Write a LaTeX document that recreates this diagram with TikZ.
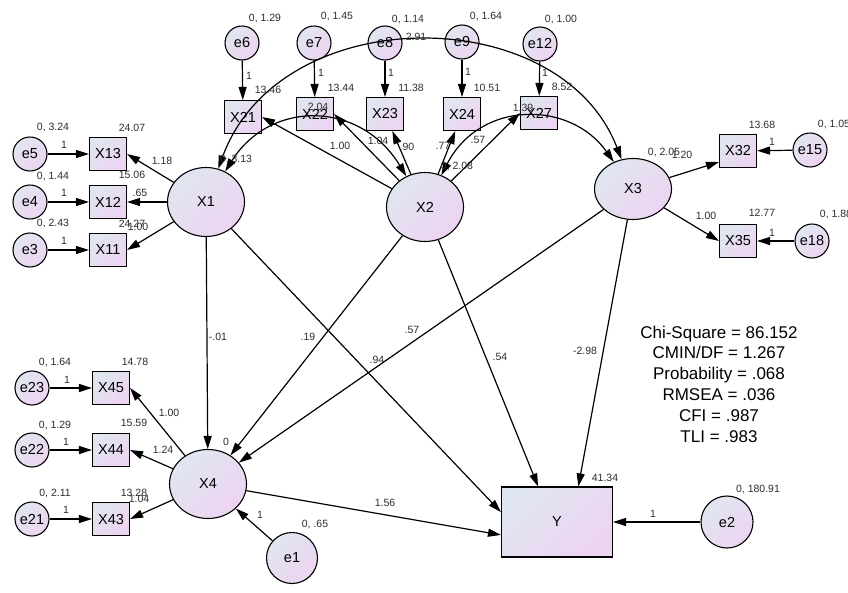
\documentclass[tikz,border=0pt]{standalone}
\usepackage{fontspec}
\setmainfont{Liberation Sans}
\usetikzlibrary{arrows.meta, shapes.geometric}
\definecolor{amosblue}{RGB}{224,230,240}
\definecolor{amospink}{RGB}{237,212,241}
\definecolor{labgray}{RGB}{45,45,45}
\tikzset{>={Triangle[length=13pt,width=8pt]}}
\tikzset{
  grad/.style={left color=amosblue, right color=amospink, shading angle=45},
  lat/.style={ellipse, draw, line width=1.1pt, grad, minimum width=77pt, minimum height=69pt, inner sep=0pt, font=\fontsize{14.5}{16}\selectfont},
  obs/.style={rectangle, draw, line width=1.1pt, grad, minimum width=37pt, minimum height=33pt, inner sep=0pt, font=\fontsize{14.5}{16}\selectfont},
  err/.style={circle, draw, line width=1.1pt, grad, minimum size=34pt, inner sep=0pt, font=\fontsize{14.5}{16}\selectfont},
  lab/.style={inner sep=0pt, text=labgray, font=\fontsize{10.5}{12}\selectfont},
  arr/.style={->, line width=1.2pt},
  cov/.style={<->, line width=1.2pt}
}

\begin{document}
\begin{tikzpicture}[x=1pt,y=-1pt]
\path[fill=white] (0,0) rectangle (848,592);
\useasboundingbox (0,0) rectangle (848,592);
\node[lat] (X1) at (206,202) {X1};
\node[lat] (X2) at (425,207) {X2};
\node[lat, minimum height=61pt] (X3) at (633,189) {X3};
\node[lat] (X4) at (208,484) {X4};
\node[obs] (X21) at (243,117) {X21};
\node[obs] (X22) at (315,114) {X22};
\node[obs] (X23) at (385,114) {X23};
\node[obs] (X24) at (462,114) {X24};
\node[obs] (X27) at (539,113) {X27};
\node[obs] (X13) at (108,154) {X13};
\node[obs] (X12) at (108,202) {X12};
\node[obs] (X11) at (108,250) {X11};
\node[obs] (X32) at (738,151) {X32};
\node[obs] (X35) at (738,241) {X35};
\node[obs] (X45) at (111,388) {X45};
\node[obs] (X44) at (111,450) {X44};
\node[obs] (X43) at (111,519) {X43};
\node[obs, minimum width=111pt, minimum height=70pt] (Y) at (557,522) {Y};
\node[err] (e6) at (242,43) {e6};
\node[err] (e7) at (314,43) {e7};
\node[err] (e8) at (385,43) {e8};
\node[err] (e9) at (462,42) {e9};
\node[err] (e12) at (540,44) {e12};
\node[err] (e5) at (30,154) {e5};
\node[err] (e4) at (30,202) {e4};
\node[err] (e3) at (30,250) {e3};
\node[err] (e15) at (810,150) {e15};
\node[err] (e18) at (812,241) {e18};
\node[err] (e23) at (32,388) {e23};
\node[err] (e22) at (32,450) {e22};
\node[err] (e21) at (32,519) {e21};
\node[err, minimum size=51pt] (e1) at (292,558) {e1};
\node[err, minimum size=52pt] (e2) at (727,522) {e2};

\draw[arr] (e6) -- (X21);
\draw[arr] (e7) -- (X22);
\draw[arr] (e8) -- (X23);
\draw[arr] (e9) -- (X24);
\draw[arr] (e12) -- (X27);
\draw[arr] (e5) -- (X13);
\draw[arr] (e4) -- (X12);
\draw[arr] (e3) -- (X11);
\draw[arr] (e15) -- (X32);
\draw[arr] (e18) -- (X35);
\draw[arr] (e23) -- (X45);
\draw[arr] (e22) -- (X44);
\draw[arr] (e21) -- (X43);
\draw[arr] (e1) -- (X4);
\draw[arr] (e2) -- (Y);

\draw[arr] (X1) -- (X13.east);
\draw[arr] (X1) -- (X12.east);
\draw[arr] (X1) -- (X11.east);
\draw[arr] (X2) -- (X21.east);
\draw[arr] (X2) -- (X22.east);
\draw[arr] (X2) -- (X23);
\draw[arr] (X2) -- (X24);
\draw[arr] (X2) -- (X27.west);
\draw[arr] (X3) -- (X32.210);
\draw[arr] (X3) -- (X35.west);
\draw[arr] (X4) -- (X45.east);
\draw[arr] (X4) -- (X44.east);
\draw[arr] (X4) -- (X43.east);

\draw[arr] (X1) -- (X4);
\draw[arr] (X2) -- (X4);
\draw[arr] (X3) -- (X4);
\draw[arr] (X1) -- (Y.170);
\draw[arr] (X2) -- (Y.118);
\draw[arr] (X3) -- (Y.59);
\draw[arr] (X4) -- (Y.193);

\draw[cov] (X1) .. controls (280,0) and (560,0) .. (X3);
\draw[cov] (X1) .. controls (270,100) and (360,100) .. (X2);
\draw[cov] (X2) .. controls (480,100) and (570,100) .. (X3);

\node[lab] (v6) at (265,19) {0, 1.29};
\node[lab] (v7) at (337,17) {0, 1.45};
\node[lab] (v8) at (408,20) {0, 1.14};
\node[lab] (v9) at (486,17) {0, 1.64};
\node[lab] (v12) at (561,20) {0, 1.00};
\node[lab] (w6) at (249,76) {1};
\node[lab] (w7) at (321,73) {1};
\node[lab] (w8) at (391,73) {1};
\node[lab] (w9) at (468,72) {1};
\node[lab] (w12) at (545,73) {1};
\node[lab] (i21) at (268,90) {13.46};
\node[lab] (i22) at (341,88) {13.44};
\node[lab] (i23) at (411,88) {11.38};
\node[lab] (i24) at (487,88) {10.51};
\node[lab] (i27) at (562,87) {8.52};
\node[lab] (c13) at (416,37) {2.91};
\node[lab] (c12) at (318,107) {2.04};
\node[lab] (c23) at (523,108) {1.39};
\node[lab] (l21) at (340,146) {1.00};
\node[lab] (l22) at (378,141) {1.04};
\node[lab] (l23) at (407,147) {.90};
\node[lab] (l24) at (443,146) {.77};
\node[lab] (l27) at (478,140) {.57};
\node[lab] (vX1) at (236,160) {0, 3.13};
\node[lab] (vX2) at (457,167) {0, 2.08};
\node[lab] (vX3) at (664,153) {0, 2.05};
\node[lab] (vX4) at (226,442) {0};

\node[lab] (v5) at (53,128) {0, 3.24};
\node[lab] (i13) at (132,128) {24.07};
\node[lab] (w5) at (64,145) {1};
\node[lab] (v4) at (53,177) {0, 1.44};
\node[lab] (i12) at (132,175) {15.06};
\node[lab] (w4) at (64,193) {1};
\node[lab] (v3) at (53,224) {0, 2.43};
\node[lab] (i11) at (132,224) {24.27};
\node[lab] (w3) at (64,241) {1};
\node[lab] (l13) at (162,161) {1.18};
\node[lab] (l12) at (140,193) {.65};
\node[lab] (l11) at (138,227) {1.00};

\node[lab] (l32) at (682,155) {1.20};
\node[lab] (i32) at (762,125) {13.68};
\node[lab] (v15) at (834,125) {0, 1.05};
\node[lab] (w15) at (772,142) {1};
\node[lab] (l35) at (706,216) {1.00};
\node[lab] (i35) at (762,213) {12.77};
\node[lab] (v18) at (836,215) {0, 1.88};
\node[lab] (w18) at (772,233) {1};

\node[lab] (v23) at (55,362) {0, 1.64};
\node[lab] (i45) at (135,362) {14.78};
\node[lab] (w23) at (67,380) {1};
\node[lab] (v22) at (55,425) {0, 1.29};
\node[lab] (i44) at (134,423) {15.59};
\node[lab] (w22) at (66,442) {1};
\node[lab] (v21) at (55,493) {0, 2.11};
\node[lab] (i43) at (134,493) {13.28};
\node[lab] (w21) at (66,510) {1};
\node[lab] (l45) at (169,413) {1.00};
\node[lab] (l44) at (163,450) {1.24};
\node[lab] (l43) at (139,499) {1.04};

\node[lab] (b14) at (218,337) {-.01};
\node[lab] (b24) at (308,337) {.19};
\node[lab] (b34) at (412,330) {.57};
\node[lab] (b1y) at (377,360) {.94};
\node[lab] (b2y) at (500,357) {.54};
\node[lab] (b3y) at (585,351) {-2.98};
\node[lab] (b4y) at (385,503) {1.56};
\node[lab] (iY) at (605,478) {41.34};
\node[lab] (w1) at (260,515) {1};
\node[lab] (v1) at (315,524) {0, .65};
\node[lab] (v2) at (758,489) {0, 180.91};
\node[lab] (w2) at (653,514) {1};

\node[align=center, inner sep=0pt, font=\fontsize{17}{20.8}\selectfont] (fit) at (719,384)
  {Chi-Square = 86.152\\CMIN/DF = 1.267\\Probability = .068\\RMSEA = .036\\CFI = .987\\TLI = .983};
\end{tikzpicture}
\end{document}
